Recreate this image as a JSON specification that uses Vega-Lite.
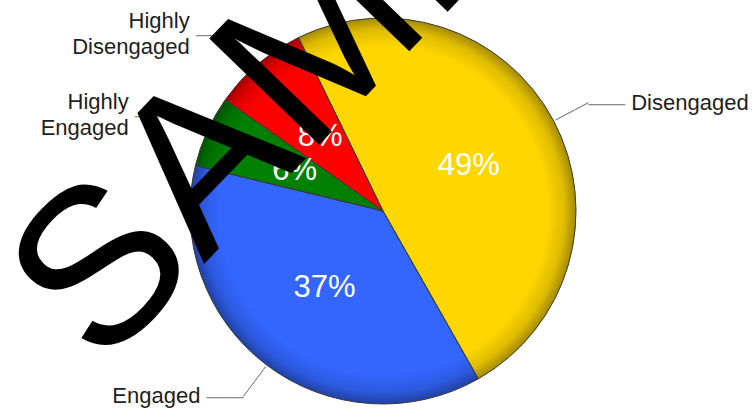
{
  "$schema": "https://vega.github.io/schema/vega-lite/v6.json",
  "width": 738,
  "height": 398,
  "autosize": {"type": "none"},
  "padding": {"left": 14, "top": 12, "right": 0, "bottom": 0},
  "background": "#ffffff",
  "config": {"view": {"stroke": null}, "font": "Liberation Sans"},
  "data": {"values": [
    {"level": "Disengaged", "v": 0.49},
    {"level": "Engaged", "v": 0.37},
    {"level": "Highly Engaged", "v": 0.06},
    {"level": "Highly Disengaged", "v": 0.08}
  ]},
  "layer": [
    {
      "transform": [{"window": [{"op": "row_number", "as": "idx"}]}],
      "mark": {"type": "arc", "radius": 193},
      "encoding": {
        "theta": {"field": "v", "type": "quantitative", "stack": true, "scale": {"range": [-0.4538, 5.8294]}},
        "order": {"field": "idx", "type": "quantitative"},
        "color": {"field": "level", "type": "nominal", "legend": null,
          "scale": {"domain": ["Disengaged", "Engaged", "Highly Engaged", "Highly Disengaged"],
                    "range": ["#FFD700", "#3366FF", "#008000", "#FF0000"]}}
      }
    },
    {
      "data": {"values": [{"o": 1}]},
      "mark": {"type": "arc", "radius": 193, "theta": 0, "theta2": 6.2832,
        "fill": {"gradient": "radial", "x1": 0.5, "y1": 0.5, "r1": 0, "x2": 0.5, "y2": 0.5, "r2": 0.5,
          "stops": [
            {"offset": 0, "color": "rgba(0,0,0,0)"},
            {"offset": 0.85, "color": "rgba(0,0,0,0)"},
            {"offset": 0.94, "color": "rgba(0,0,0,0.13)"},
            {"offset": 1, "color": "rgba(0,0,0,0.36)"}
          ]}},
      "encoding": {}
    },
    {
      "transform": [{"window": [{"op": "row_number", "as": "idx"}]}],
      "mark": {"type": "arc", "radius": 193, "filled": false, "stroke": "#3a3a3a", "strokeWidth": 1},
      "encoding": {
        "theta": {"field": "v", "type": "quantitative", "stack": true},
        "order": {"field": "idx", "type": "quantitative"}
      }
    },
    {
      "transform": [{"window": [{"op": "row_number", "as": "idx"}]}],
      "mark": {"type": "text", "radius": 97, "fontSize": 31, "fill": "#ffffff", "align": "center", "baseline": "middle"},
      "encoding": {
        "theta": {"field": "v", "type": "quantitative", "stack": true},
        "order": {"field": "idx", "type": "quantitative"},
        "text": {"field": "v", "type": "quantitative", "format": ".0%"}
      }
    },
    {
      "transform": [{"window": [{"op": "row_number", "as": "idx"}]}],
      "mark": {"type": "arc", "radius": 232, "radius2": 195, "padAngle": 3.1, "filled": false, "stroke": "#8a8a8a", "strokeWidth": 1},
      "encoding": {
        "theta": {"field": "v", "type": "quantitative", "stack": true},
        "order": {"field": "idx", "type": "quantitative"}
      }
    },
    {
      "transform": [{"window": [{"op": "row_number", "as": "idx"}]}],
      "mark": {"type": "text", "radius": 232, "fontSize": 18.5, "fill": "#8a8a8a", "align": "left", "baseline": "middle"},
      "encoding": {
        "theta": {"field": "v", "type": "quantitative", "stack": true},
        "order": {"field": "idx", "type": "quantitative"},
        "text": {"condition": {"test": "datum.level === 'Disengaged'", "value": "——"}, "value": ""}
      }
    },
    {
      "transform": [{"window": [{"op": "row_number", "as": "idx"}]}],
      "mark": {"type": "text", "radius": 232, "fontSize": 18.5, "fill": "#8a8a8a", "align": "right", "baseline": "middle"},
      "encoding": {
        "theta": {"field": "v", "type": "quantitative", "stack": true},
        "order": {"field": "idx", "type": "quantitative"},
        "text": {"condition": {"test": "datum.level !== 'Disengaged'", "value": "——"}, "value": ""}
      }
    },
    {
      "transform": [{"window": [{"op": "row_number", "as": "idx"}]}],
      "mark": {"type": "text", "radius": 232, "dx": 43, "fontSize": 22, "fill": "#1e1e1e", "align": "left", "baseline": "middle"},
      "encoding": {
        "theta": {"field": "v", "type": "quantitative", "stack": true},
        "order": {"field": "idx", "type": "quantitative"},
        "text": {"condition": {"test": "datum.level === 'Disengaged'", "field": "level"}, "value": ""}
      }
    },
    {
      "transform": [{"window": [{"op": "row_number", "as": "idx"}]}],
      "mark": {"type": "text", "radius": 232, "dx": -43, "fontSize": 22, "fill": "#1e1e1e", "align": "right", "baseline": "middle"},
      "encoding": {
        "theta": {"field": "v", "type": "quantitative", "stack": true},
        "order": {"field": "idx", "type": "quantitative"},
        "text": {"condition": {"test": "datum.level === 'Engaged'", "field": "level"}, "value": ""}
      }
    },
    {
      "transform": [{"window": [{"op": "row_number", "as": "idx"}]}],
      "mark": {"type": "text", "radius": 232, "dx": -43, "dy": -13, "fontSize": 22, "fill": "#1e1e1e", "align": "right", "baseline": "middle", "lineBreak": " ", "lineHeight": 26},
      "encoding": {
        "theta": {"field": "v", "type": "quantitative", "stack": true},
        "order": {"field": "idx", "type": "quantitative"},
        "text": {"condition": {"test": "datum.level === 'Highly Engaged' || datum.level === 'Highly Disengaged'", "field": "level"}, "value": ""}
      }
    },
    {
      "data": {"values": [{"mark": "SAMPLE"}]},
      "mark": {"type": "text", "angle": -46, "fontSize": 222, "fill": "#000000", "align": "left", "baseline": "alphabetic", "dx": -311, "dy": -92},
      "encoding": {"text": {"field": "mark", "type": "nominal"}}
    }
  ]
}
